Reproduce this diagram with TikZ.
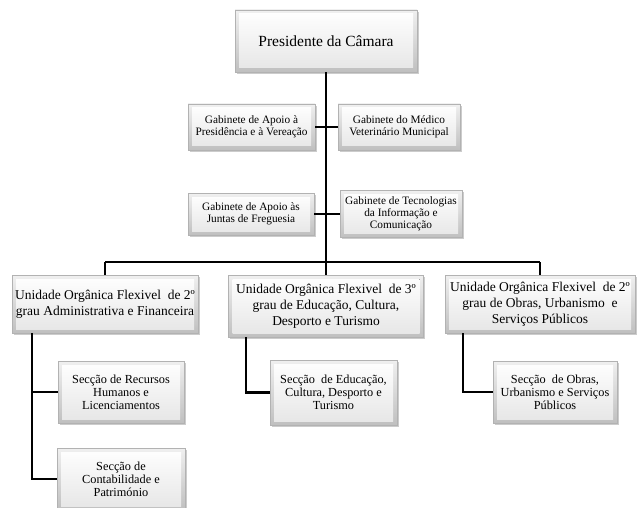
\documentclass[tikz,border=0pt]{standalone}
\usepackage{fontspec}
\setmainfont{Liberation Serif}
\usetikzlibrary{shadows}
\tikzset{
  box/.style={draw=gray!60, line width=0.4pt, top color=gray!12, bottom color=gray!50,
    inner sep=1pt, align=center,
    drop shadow={shadow xshift=1.8pt, shadow yshift=-1.8pt, opacity=0.4},
    path picture={\fill[top color=white, bottom color=gray!20]
      ([shift={(4pt,4pt)}]path picture bounding box.south west) rectangle
      ([shift={(-4pt,-4pt)}]path picture bounding box.north east);}},
  presbox/.style={box, font=\fontsize{15.5}{18}\selectfont},
  gabbox/.style={box, font=\fontsize{11.3}{11.8}\selectfont},
  unitbox/.style={box, font=\fontsize{13.5}{16}\selectfont},
  secbox/.style={box, font=\fontsize{12.3}{13}\selectfont},
  conn/.style={line width=2.6pt, black},
}
\begin{document}
\begin{tikzpicture}[x=1pt,y=-1pt]
\useasboundingbox[fill=white] (0,0) rectangle (637,508);

\node[presbox, minimum width=182pt, minimum height=62pt] (pres) at (326,41) {Presidente da Câmara};

\node[gabbox, minimum width=127pt, minimum height=46pt] (g1) at (251.5,127) {Gabinete de Apoio à\\Presidência e à Vereação};
\node[gabbox, minimum width=122pt, minimum height=46pt] (g2) at (399,127) {Gabinete do Médico\\Veterinário Municipal};
\node[gabbox, minimum width=126pt, minimum height=42pt] (g3) at (251,214) {Gabinete de Apoio às\\Juntas de Freguesia};
\node[gabbox, minimum width=122pt, minimum height=47pt] (g4) at (401,214) {Gabinete de Tecnologias\\da Informação e\\Comunicação};

\node[unitbox, minimum width=186pt, minimum height=58pt] (u1) at (105,304) {Unidade Orgânica Flexivel\ \ de 2º\\grau Administrativa e Financeira};
\node[unitbox, minimum width=195pt, minimum height=62pt] (u2) at (326,306) {Unidade Orgânica Flexivel\ \ de 3º\\grau de Educação, Cultura,\\Desporto e Turismo};
\node[unitbox, minimum width=190pt, minimum height=58pt] (u3) at (540,304) {Unidade Orgânica Flexivel\ \ de 2º\\grau de Obras, Urbanismo\ \ e\\Serviços Públicos};

\node[secbox, minimum width=126pt, minimum height=62pt] (s1) at (121,392) {Secção de Recursos\\Humanos e\\Licenciamentos};
\node[secbox, minimum width=128pt, minimum height=62pt] (s2) at (121,479) {Secção de\\Contabilidade e\\Património};
\node[secbox, minimum width=127pt, minimum height=65pt] (s3) at (333.5,392.5) {Secção\ \ de Educação,\\Cultura, Desporto e\\Turismo};
\node[secbox, minimum width=124pt, minimum height=62pt] (s4) at (555,392) {Secção\ \ de Obras,\\Urbanismo e Serviços\\Públicos};

\coordinate (busC) at (326,262);
\coordinate (busL) at (105,262);
\coordinate (busR) at (540,262);
\coordinate (a1) at (32,0);
\coordinate (a2) at (246,0);
\coordinate (a3) at (463,0);

\draw[conn] (pres.south) -- (busC);
\draw[conn] (g1.east) -- (g2.west);
\draw[conn] (g3.east) -- (g4.west);
\draw[conn] (busL) -- (busR);
\draw[conn] (busL) -- (u1.north);
\draw[conn] (busC) -- (u2.north);
\draw[conn] (busR) -- (u3.north);
\draw[conn] (a1 |- u1.south) -- (a1 |- s2.west) -- (s2.west);
\draw[conn] (a1 |- s1.west) -- (s1.west);
\draw[conn] (a2 |- u2.south) -- (a2 |- s3.west) -- (s3.west);
\draw[conn] (a3 |- u3.south) -- (a3 |- s4.west) -- (s4.west);
\end{tikzpicture}
\end{document}
